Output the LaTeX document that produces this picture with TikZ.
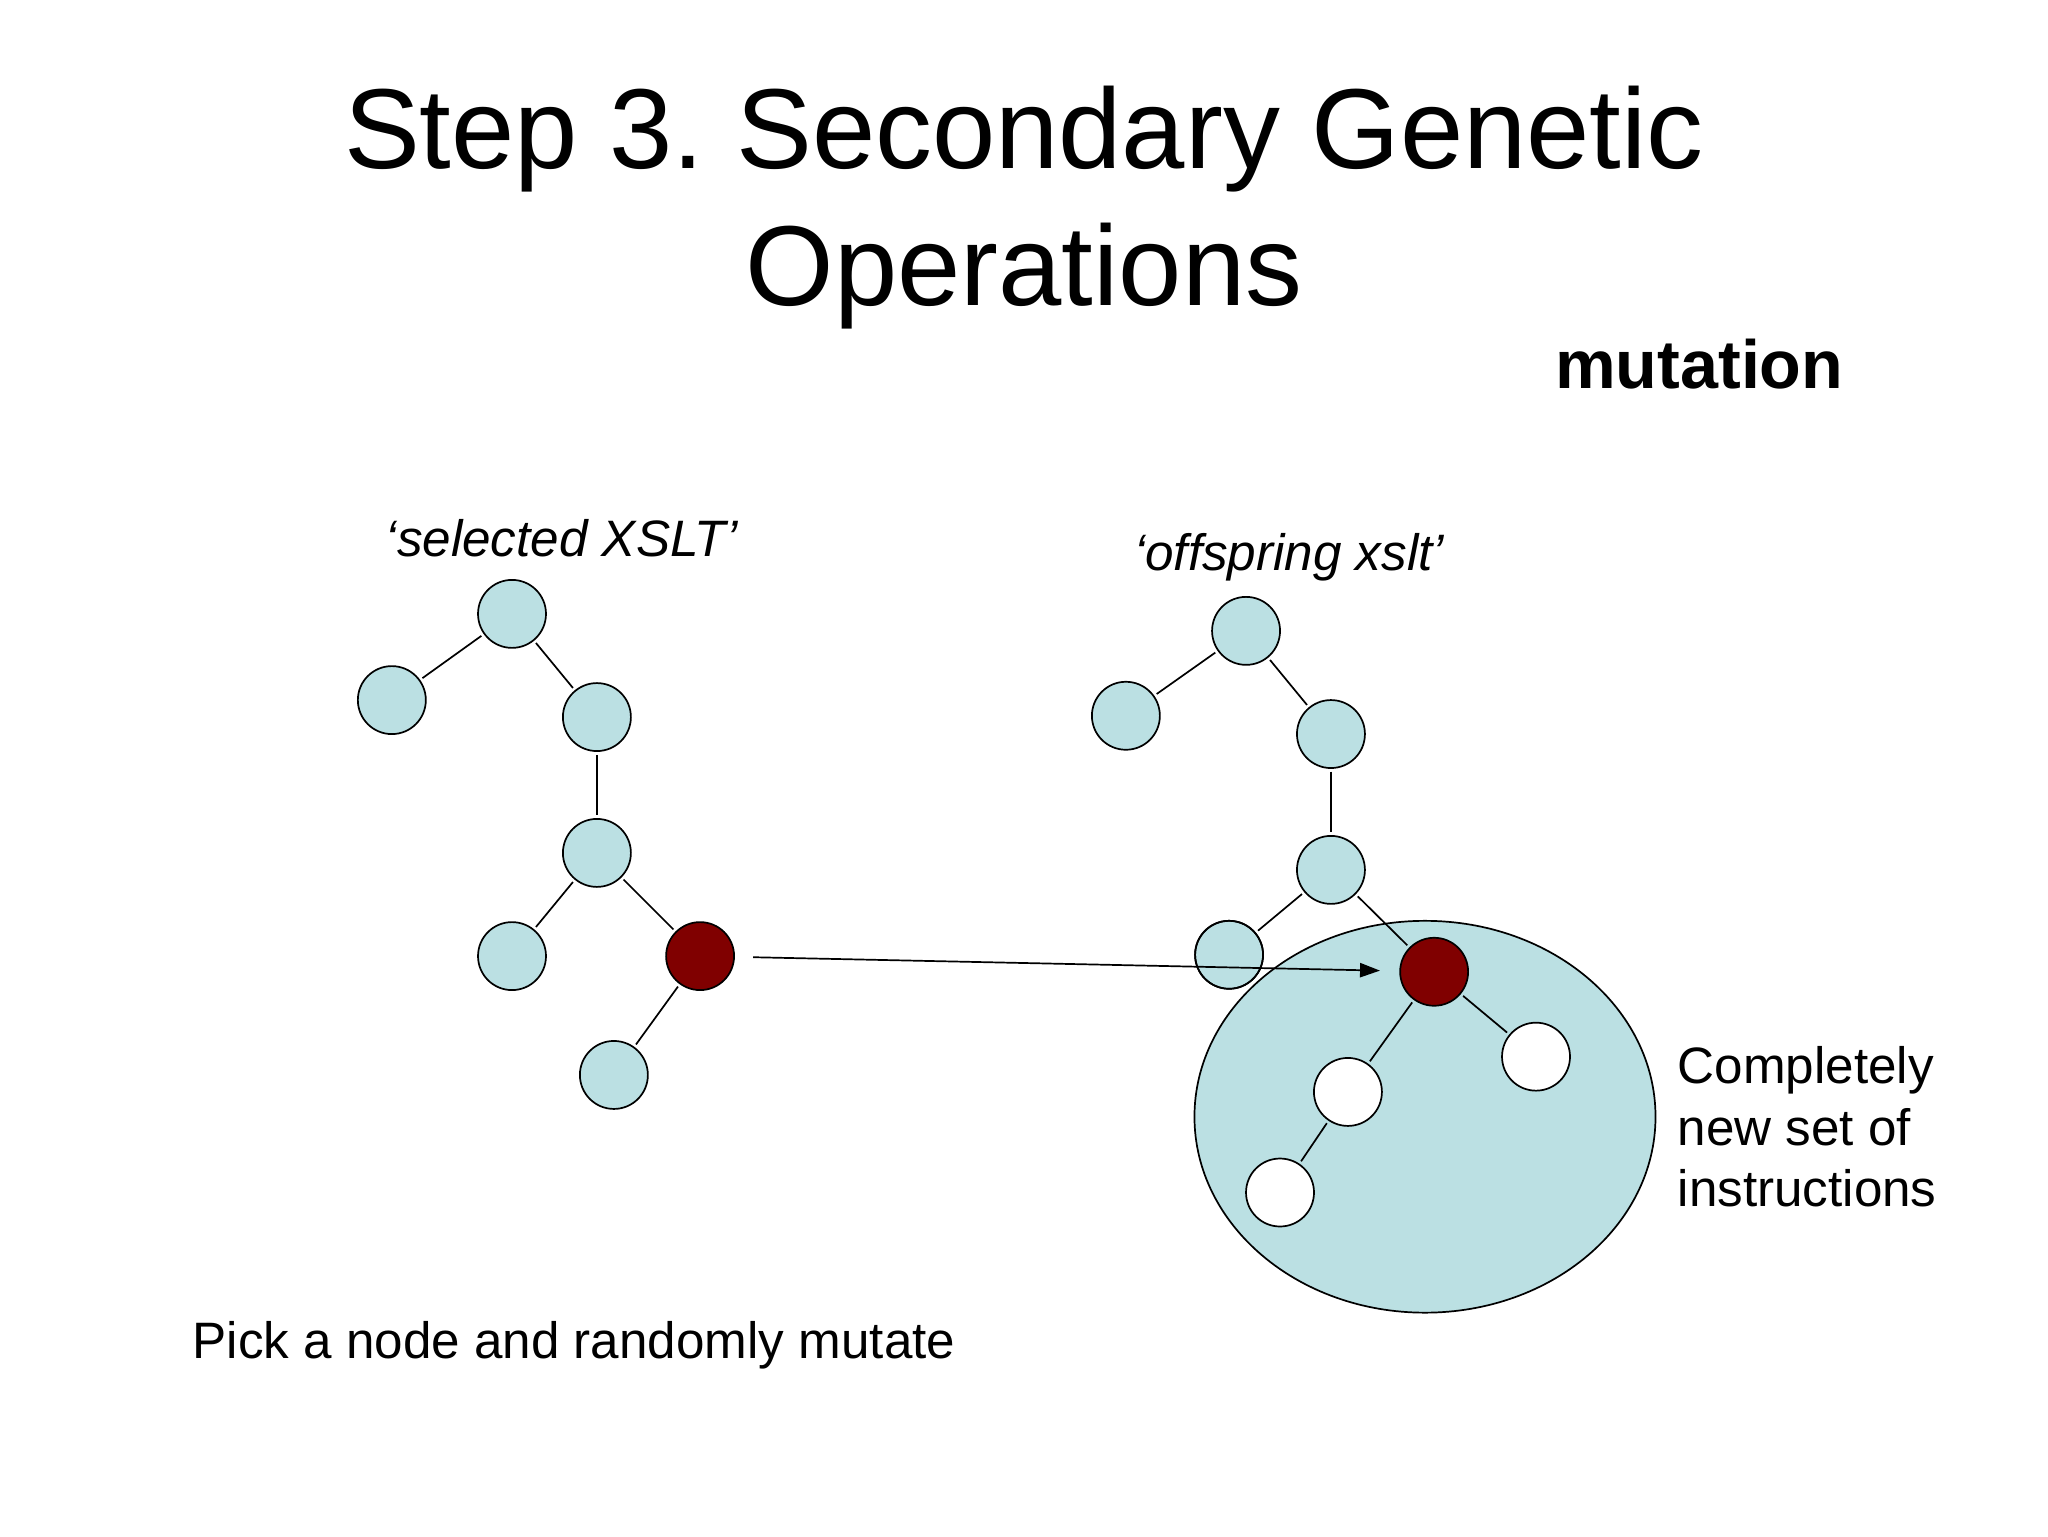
\documentclass[tikz,border=0pt]{standalone}
\usepackage{fontspec}
\setmainfont{Liberation Sans}
\usetikzlibrary{arrows.meta,shapes.geometric}
\definecolor{treeblue}{RGB}{187,224,227}
\definecolor{selred}{RGB}{128,0,0}
\tikzset{
    treenode/.style={circle, draw=black, line width=0.6pt, minimum size=23.9pt, inner sep=0pt},
    % Tree Node
    node_tree/.style = {treenode, fill=treeblue},
    % Selected Node
    node_sel/.style = {treenode, fill=selred},
    % New Node
    node_new/.style = {treenode, fill=white},
    branch/.style = {line width=0.6pt, shorten <=1pt, shorten >=1pt}
}
\frenchspacing

\begin{document}
\begin{tikzpicture}[x=0.4592pt, y=-0.4592pt]
    \useasboundingbox (0,0) rectangle (1568,1176);

    % titles
    \node[align=center, font=\fontsize{40}{48}\selectfont] (title) at (784,159) {Step 3. Secondary Genetic\\Operations};
    \node[font=\fontsize{24}{29}\selectfont\bfseries] (mutation) at (1301,279) {mutation};
    \node[font=\fontsize{18}{22}\selectfont\itshape] (sel_label) at (430,412) {‘selected XSLT’};
    \node[font=\fontsize{18}{22}\selectfont\itshape] (off_label) at (987,427) {‘offspring xslt’};

    % selected tree
    \node[node_tree] (a1) at (392,470) {};
    \node[node_tree] (b1) at (300,536) {};
    \node[node_tree] (c1) at (457,549) {};
    \node[node_tree] (d1) at (457,653) {};
    \node[node_tree] (e1) at (392,732) {};
    \node[node_sel]  (f1) at (536,732) {};
    \node[node_tree] (g1) at (470,823) {};
    \draw[branch] (a1) -- (b1);
    \draw[branch] (a1) -- (c1);
    \draw[branch] (c1) -- (d1);
    \draw[branch] (d1) -- (e1);
    \draw[branch] (d1) -- (f1);
    \draw[branch] (f1) -- (g1);

    % offspring tree
    \node[node_tree] (e2) at (941,731) {};
    \node[ellipse, draw=black, line width=0.6pt, fill=treeblue, minimum width=353*0.4592pt, minimum height=300*0.4592pt, inner sep=0pt] (newpart) at (1091,855) {};
    \draw[line width=0.6pt] (e2) circle[radius=11.95pt];
    \node[node_tree] (a2) at (954,483) {};
    \node[node_tree] (b2) at (862,548) {};
    \node[node_tree] (c2) at (1019,562) {};
    \node[node_tree] (d2) at (1019,666) {};
    \node[node_sel]  (f2) at (1098,744) {};
    \node[node_new]  (g2) at (1032,836) {};
    \node[node_new]  (h2) at (1176,809) {};
    \node[node_new]  (k2) at (980,913) {};
    \draw[branch] (a2) -- (b2);
    \draw[branch] (a2) -- (c2);
    \draw[branch] (c2) -- (d2);
    \draw[branch] (d2) -- (e2);
    \draw[branch] (d2) -- (f2);
    \draw[branch] (f2) -- (g2);
    \draw[branch] (f2) -- (h2);
    \draw[branch] (g2) -- (k2);

    % mutation arrow
    \draw[line width=0.6pt, -{Triangle[length=7pt, width=5pt]}, shorten <=6.4pt, shorten >=6.8pt] (f1) -- (f2);

    \node[anchor=north west, inner sep=0pt, align=left, font=\fontsize{18}{21.5}\selectfont] (new_label) at (1284,801) {Completely\\new set of\\instructions};
    \node[anchor=west, inner sep=0pt, font=\fontsize{18}{22}\selectfont] (pick_label) at (147,1030) {Pick a node and randomly mutate};
\end{tikzpicture}
\end{document}
